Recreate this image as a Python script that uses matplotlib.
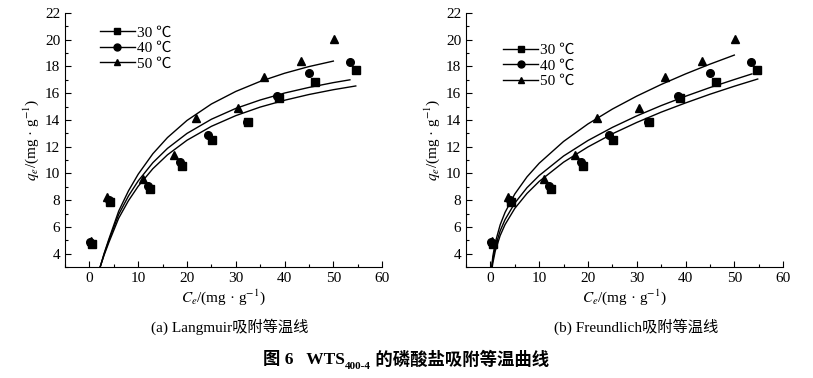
import numpy as np
import matplotlib
matplotlib.use('Agg')
import matplotlib.pyplot as plt
from matplotlib.ticker import MultipleLocator
from matplotlib.lines import Line2D

plt.rcParams['font.family'] = ['Liberation Serif', 'Noto Sans CJK SC']
plt.rcParams['mathtext.fontset'] = 'stix'

# measured points (same in both panels)
c30 = [0.55, 4.3, 12.5, 19.0, 25.1, 32.5, 38.8, 46.2, 54.7]
q30 = [4.72, 7.89, 8.84, 10.58, 12.5, 13.82, 15.67, 16.84, 17.74]
c40 = [0.1, 4.1, 12.0, 18.5, 24.4, 32.3, 38.4, 45.1, 53.5]
q40 = [4.85, 8.01, 9.06, 10.83, 12.87, 13.87, 15.82, 17.49, 18.31]
c50 = [0.3, 3.6, 11.0, 17.3, 21.9, 30.4, 35.8, 43.4, 50.2]
q50 = [4.95, 8.26, 9.58, 11.38, 14.12, 14.87, 17.19, 18.43, 20.06]

# Langmuir fit curves
lc = [2.2, 3, 4, 6, 8, 10, 13, 16, 20, 25, 30, 35, 40, 45, 50]
lq50 = [3.0, 4.0, 5.1, 7.18, 8.69, 9.94, 11.47, 12.68, 13.96, 15.19, 16.13, 16.88, 17.49, 17.99, 18.4]
lc40 = lc[:-1] + [50, 53.4]
lq40 = [3.0, 3.95, 5.0, 6.93, 8.31, 9.44, 10.8, 11.87, 12.99, 14.05, 14.86, 15.49, 16.01, 16.43, 16.79, 17.0]
lc30 = lc[:-1] + [50, 54.6]
lq30 = [3.0, 3.88, 4.85, 6.65, 7.96, 9.04, 10.35, 11.39, 12.48, 13.52, 14.32, 14.96, 15.47, 15.9, 16.26, 16.54]

# Freundlich fit curves
fc50 = [0.254, 0.5, 1, 2, 3, 5, 7.5, 10, 15, 20, 25, 30, 35, 40, 45, 50]
fq50 = [3.0, 3.8, 4.83, 6.15, 7.08, 8.46, 9.74, 10.76, 12.39, 13.7, 14.81, 15.78, 16.65, 17.44, 18.17, 18.85]
fc40 = [0.30, 0.5, 1, 2, 3, 5, 7.5, 10, 15, 20, 25, 30, 35, 40, 45, 50, 53.6]
fq40 = [3.0, 3.56, 4.5, 5.7, 6.54, 7.78, 8.93, 9.84, 11.3, 12.46, 13.44, 14.3, 15.07, 15.77, 16.42, 17.02, 17.44]
fc30 = [0.38, 0.5, 1, 2, 3, 5, 7.5, 10, 15, 20, 25, 30, 35, 40, 45, 50, 54.8]
fq30 = [3.0, 3.3, 4.2, 5.35, 6.17, 7.38, 8.5, 9.4, 10.84, 11.98, 12.96, 13.81, 14.58, 15.27, 15.92, 16.52, 17.06]

labels = ['30 ℃', '40 ℃', '50 ℃']
markers = ['s', 'o', '^']

fig = plt.figure(figsize=(8.13, 3.78), dpi=100)
axa = fig.add_axes([0.080, 0.2937, 0.390, 0.672])
axb = fig.add_axes([0.5732, 0.2937, 0.390, 0.672])

pts = [(c30, q30), (c40, q40), (c50, q50)]
curves_a = [(lc30, lq30), (lc40, lq40), (lc, lq50)]
curves_b = [(fc30, fq30), (fc40, fq40), (fc50, fq50)]

for ax, curves, leg_xy in [(axa, curves_a, (0.11, 0.95)), (axb, curves_b, (0.117, 0.88))]:
    for (cx, cy), m in zip(curves, markers):
        ax.plot(cx, cy, color='black', lw=1.0)
    for (px, py), m in zip(pts, markers):
        ax.plot(px, py, linestyle='none', marker=m, color='black', ms=5.5)
    ax.set_xlim(-5, 60)
    ax.set_ylim(3, 22)
    ax.set_xticks([0, 10, 20, 30, 40, 50, 60])
    ax.set_yticks(range(4, 23, 2))
    ax.xaxis.set_minor_locator(MultipleLocator(5))
    ax.yaxis.set_minor_locator(MultipleLocator(1))
    ax.spines['top'].set_visible(False)
    ax.spines['right'].set_visible(False)
    ax.tick_params(which='both', direction='in', labelsize=11, width=0.8)
    ax.tick_params(which='major', length=4)
    ax.tick_params(which='minor', length=2.5)
    ax.set_xlabel(r'$C_e$/(mg · g$^{-1}$)', fontsize=11, labelpad=2)
    ax.set_ylabel(r'$q_e$/(mg · g$^{-1}$)', fontsize=11, labelpad=3)
    handles = [Line2D([], [], color='black', lw=1.0, marker=m, ms=5) for m in markers]
    ax.legend(handles, labels, loc='upper left', bbox_to_anchor=leg_xy, frameon=False,
              fontsize=11, handlelength=2.3, handletextpad=0.1, labelspacing=0.12,
              borderpad=0, borderaxespad=0)

fig.text(0.282, 0.135, '(a) Langmuir吸附等温线', ha='center', va='center', fontsize=11)
fig.text(0.783, 0.135, '(b) Freundlich吸附等温线', ha='center', va='center', fontsize=11)

# title in pieces: main text, subscript, rest
fig.canvas.draw()
r = fig.canvas.get_renderer()
t1 = fig.text(0, 0.047, '图 6   WTS', fontsize=12.5, weight='bold', va='center')
t2 = fig.text(0, 0.030, '400-4', fontsize=8, weight='bold', va='center')
t3 = fig.text(0, 0.047, ' 的磷酸盐吸附等温曲线', fontsize=12.5, weight='bold', va='center')
w1 = t1.get_window_extent(r).width
w2 = t2.get_window_extent(r).width
w3 = t3.get_window_extent(r).width
total = w1 + w2 + w3
x0 = 406 - total / 2
W = fig.bbox.width
t1.set_x(x0 / W)
t2.set_x((x0 + w1) / W)
t3.set_x((x0 + w1 + w2) / W)

fig.savefig('out.png', dpi=100)
